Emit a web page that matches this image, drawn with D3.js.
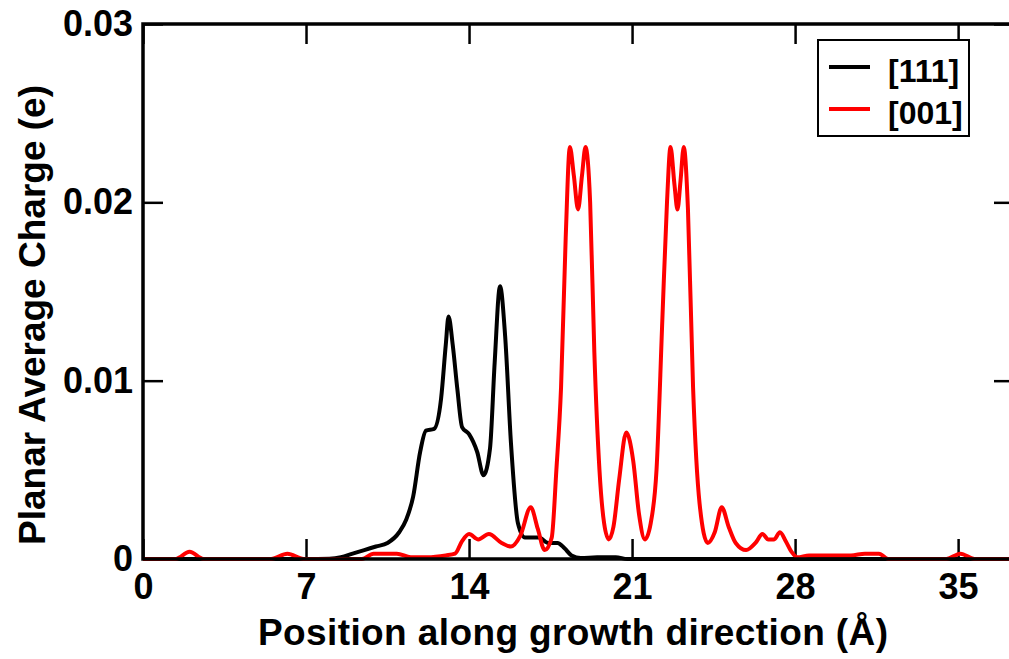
<!DOCTYPE html>
<html>
<head>
<meta charset="utf-8">
<script src="https://cdn.jsdelivr.net/npm/d3@7"></script>
<style>
  body { margin: 0; background: #fff; }
  text { font-family: "Liberation Sans", Arial, sans-serif; font-weight: bold; fill: #000; }
</style>
</head>
<body>
<svg id="chart" width="1009" height="659"></svg>
<script>
// position along growth direction (Å) and planar average charge (e)
const xTicks = [0, 7, 14, 21, 28, 35];
const yTicks = [0, 0.01, 0.02, 0.03];
const seriesNames = ['[111]', '[001]'];
const seriesColors = ['#000000', '#ff0000'];

const pos111 = [0, 7, 8.0, 8.5, 9.0, 9.5, 10.0, 10.5, 11.0, 11.3, 11.6, 11.9, 12.15, 12.5, 12.8, 13.0, 13.12, 13.3, 13.5, 13.7, 14.0, 14.35, 14.62, 14.9, 15.1, 15.33, 15.55, 15.8, 16.1, 16.4, 17.0, 17.4, 17.8, 18.1, 18.4, 18.8, 19.5, 20.3, 20.8, 37.4];
const charge111 = [0, 0, 0.00002, 0.0001, 0.0003, 0.0005, 0.0007, 0.0009, 0.0015, 0.0022, 0.0035, 0.006, 0.0072, 0.0073, 0.009, 0.012, 0.0136, 0.012, 0.0095, 0.0074, 0.007, 0.006, 0.0047, 0.0062, 0.011, 0.0153, 0.0125, 0.0065, 0.002, 0.0012, 0.0012, 0.0009, 0.0009, 0.0006, 0.0002, 0.00005, 0.0001, 0.0001, 0, 0];

const pos001 = [0, 1.4, 2.0, 2.6, 5.5, 6.2, 6.9, 9.4, 9.9, 10.9, 11.5, 12.2, 13.0, 13.4, 13.7, 14.0, 14.4, 14.85, 15.4, 15.8, 16.2, 16.65, 16.95, 17.25, 17.55, 17.75, 17.95, 18.15, 18.33, 18.5, 18.68, 18.85, 19.0, 19.2, 19.38, 19.6, 19.8, 20.0, 20.2, 20.45, 20.75, 21.05, 21.3, 21.55, 21.8, 22.05, 22.3, 22.5, 22.65, 22.82, 22.95, 23.08, 23.22, 23.4, 23.62, 23.9, 24.25, 24.55, 24.85, 25.15, 25.45, 25.9, 26.3, 26.6, 26.85, 27.1, 27.35, 27.6, 27.85, 28.1, 28.6, 29.5, 30.4, 31.0, 31.6, 32.0, 34.5, 35.1, 35.7, 37.4];
const charge001 = [0, 0, 0.0004, 0, 0, 0.0003, 0, 0, 0.0003, 0.0003, 0.0001, 0.0001, 0.0002, 0.0003, 0.001, 0.0014, 0.0011, 0.0014, 0.0009, 0.0007, 0.0013, 0.0029, 0.0017, 0.0005, 0.0012, 0.005, 0.0096, 0.018, 0.0231, 0.0215, 0.0196, 0.0215, 0.0231, 0.02, 0.0116, 0.005, 0.002, 0.0011, 0.0018, 0.0045, 0.0071, 0.0055, 0.0025, 0.0011, 0.002, 0.005, 0.0134, 0.02, 0.0231, 0.021, 0.0196, 0.0212, 0.0231, 0.0196, 0.0096, 0.0031, 0.0009, 0.0015, 0.0029, 0.0018, 0.0009, 0.0005, 0.0009, 0.0014, 0.0011, 0.0011, 0.0015, 0.001, 0.0004, 0.0001, 0.0002, 0.0002, 0.0002, 0.0003, 0.0003, 0, 0, 0.0003, 0, 0];

const svg = d3.select('#chart');
const plotLeft = 143, plotTop = 24, plotRight = 1014, plotBottom = 559;

const x = d3.scaleLinear().domain([0, 37.4]).range([plotLeft, plotRight]);
const y = d3.scaleLinear().domain([0, 0.03]).range([plotBottom, plotTop]);

const fmtY = d => d === 0 ? '0' : d3.format('.2f')(d);

function styleAxis(g) {
  g.select('.domain').remove();
  g.selectAll('.tick line').attr('stroke', '#000').attr('stroke-width', 2.5);
  g.selectAll('.tick text').style('font-size', '36px').attr('fill', '#000');
}

svg.append('g')
  .attr('transform', `translate(0,${plotBottom})`)
  .call(d3.axisBottom(x).tickValues(xTicks).tickSizeInner(-20).tickSizeOuter(0).tickPadding(14))
  .call(styleAxis)
  ;

svg.append('g')
  .attr('transform', `translate(0,${plotTop})`)
  .call(d3.axisTop(x).tickValues(xTicks).tickSizeInner(-20).tickSizeOuter(0).tickFormat(''))
  .call(styleAxis)
  ;

svg.append('g')
  .attr('transform', `translate(${plotLeft},0)`)
  .call(d3.axisLeft(y).tickValues(yTicks).tickSizeInner(-20).tickSizeOuter(0).tickPadding(10).tickFormat(fmtY))
  .call(styleAxis)
  ;

svg.append('g')
  .attr('transform', `translate(${plotRight},0)`)
  .call(d3.axisRight(y).tickValues(yTicks).tickSizeInner(-20).tickSizeOuter(0).tickFormat(''))
  .call(styleAxis)
  ;

// curves
const series = [
  d3.zip(pos111, charge111),
  d3.zip(pos001, charge001)
];

const line = d3.line()
  .x(d => x(d[0]))
  .y(d => y(d[1]))
  .curve(d3.curveMonotoneX)
  ;

svg.selectAll('path.series')
  .data(series)
  .join('path')
  .attr('class', 'series')
  .attr('d', line)
  .attr('fill', 'none')
  .attr('stroke', (d, i) => seriesColors[i])
  .attr('stroke-width', 4)
  .attr('stroke-linejoin', 'round')
  ;

// frame
svg.append('rect')
  .attr('x', plotLeft)
  .attr('y', plotTop)
  .attr('width', plotRight - plotLeft)
  .attr('height', plotBottom - plotTop)
  .attr('fill', 'none')
  .attr('stroke', '#000')
  .attr('stroke-width', 3.5)
  ;

// legend
const legend = svg.append('g').attr('transform', 'translate(818,40)');

legend.append('rect')
  .attr('width', 151)
  .attr('height', 96)
  .attr('fill', '#fff')
  .attr('stroke', '#000')
  .attr('stroke-width', 2)
  ;

seriesNames.forEach((name, i) => {
  const ly = 27 + i * 42;
  legend.append('line')
    .attr('x1', 11).attr('x2', 52)
    .attr('y1', ly).attr('y2', ly)
    .attr('stroke', seriesColors[i])
    .attr('stroke-width', 4)
    ;
  legend.append('text')
    .attr('x', 70)
    .attr('y', ly + 15)
    .style('font-size', '32px')
    .text(name)
    ;
});

// axis titles
svg.append('text')
  .attr('x', 573)
  .attr('y', 645)
  .attr('text-anchor', 'middle')
  .attr('textLength', 630)
  .attr('lengthAdjust', 'spacing')
  .style('font-size', '37px')
  .text('Position along growth direction (Å)')
  ;

svg.append('text')
  .attr('transform', 'translate(45,315) rotate(-90)')
  .attr('text-anchor', 'middle')
  .attr('textLength', 460)
  .attr('lengthAdjust', 'spacing')
  .style('font-size', '37px')
  .text('Planar Average Charge (e)')
  ;
</script>
</body>
</html>
